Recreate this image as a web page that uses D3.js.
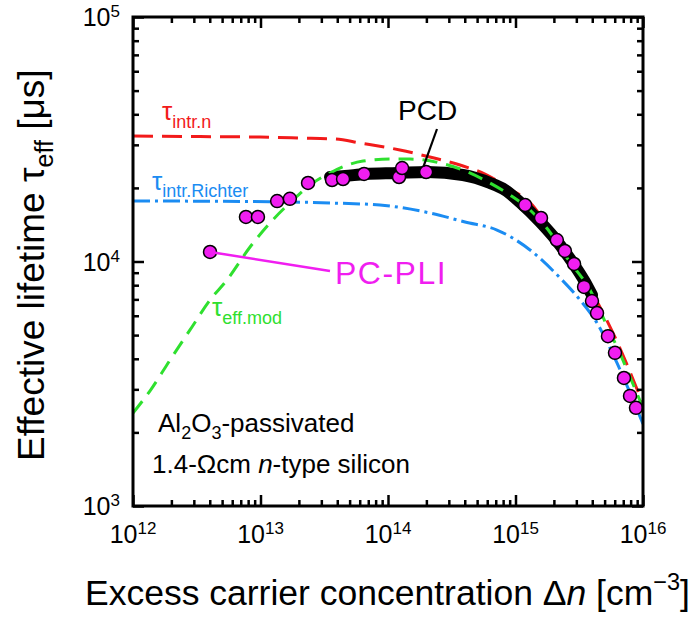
<!DOCTYPE html>
<html>
<head>
<meta charset="utf-8">
<script src="https://cdn.jsdelivr.net/npm/d3@7"></script>
<style>
  body { margin: 0; background: #fff; }
  svg { display: block; }
  text { font-family: "Liberation Sans", Arial, Helvetica, sans-serif; }
</style>
</head>
<body>
<svg id="chart" width="694" height="621"></svg>
<script>
// Axis decades and their exponent labels
const xDecades = [1e12, 1e13, 1e14, 1e15, 1e16];
const xExponents = ["12", "13", "14", "15", "16"];
const yDecades = [1e3, 1e4, 1e5];
const yExponents = ["3", "4", "5"];

// PC-PLI measurement (excess carrier density in cm^-3, lifetime in µs)
const pcpliDn = [4.02e12, 7.69e12, 9.55e12, 1.35e13, 1.70e13, 2.36e13, 3.64e13, 4.44e13, 6.49e13,
  1.22e14, 1.29e14, 1.99e14, 1.19e15, 1.585e15, 2.11e15, 2.44e15, 2.88e15, 3.45e15, 3.98e15,
  4.36e15, 5.31e15, 6.03e15, 7.09e15, 7.91e15, 8.81e15];
const pcpliTau = [10940, 15210, 15210, 17660, 18040, 20950, 21540, 21740, 22800,
  22150, 24120, 23230, 17020, 15070, 12240, 11040, 9770, 7870, 6890,
  6150, 4950, 4230, 3340, 2820, 2520];

// PCD measurement
const pcdDn = [3.51e13, 4.60e13, 6.61e13, 1.18e14, 2.02e14, 3.87e14, 6.31e14, 8.28e14,
  1.08e15, 1.56e15, 2.11e15, 2.82e15, 3.51e15, 3.98e15];
const pcdTau = [22150, 22370, 22800, 23010, 23230, 22590, 20950, 19610,
  17510, 14510, 12130, 9860, 8245, 7290];

// Modelled effective lifetime
const modDn = [1e12, 1.36e12, 1.95e12, 2.80e12, 4.02e12, 5.46e12, 8.28e12, 1.25e13, 1.80e13,
  2.58e13, 3.51e13, 4.60e13, 6.37e13, 1.04e14, 1.49e14, 2.56e14, 3.87e14, 6.31e14, 9.06e14,
  1.30e15, 1.87e15, 2.54e15, 3.84e15, 5.31e15, 6.96e15, 7.91e15, 1e16];
const modTau = [2400, 2960, 3950, 5250, 6960, 8400, 11460, 14800, 17850,
  20950, 23020, 24590, 25760, 26240, 26240, 25290, 23680, 20950, 18700,
  16240, 13140, 10330, 7640, 5350, 3950, 3370, 2520];

// Intrinsic lifetime limit (n-type parametrisation)
const intrDn = [1e12, 3.35e12, 9.9e12, 2.04e13, 3.84e13, 6.03e13, 1.24e14, 2.13e14, 3.67e14,
  5.97e14, 9.06e14, 1.30e15, 2.24e15, 3.84e15, 6.03e15, 1e16];
const intrTau = [32600, 32430, 32280, 31990, 31700, 30530, 28580, 26750, 24810,
  22580, 19800, 17410, 11450, 7700, 4900, 2612];

// Intrinsic lifetime limit after Richter
const richterDn = [1e12, 8.28e12, 3.51e13, 8.65e13, 2.13e14, 4.02e14, 7.16e14, 1.30e15,
  2.24e15, 3.21e15, 4.36e15, 6.25e15, 7.62e15, 1e16];
const richterTau = [17680, 17600, 17350, 17020, 15790, 14510, 13450, 11150,
  8560, 6960, 5600, 3845, 3040, 2165];

const zip = (a, b) => a.map((v, i) => [v, b[i]]);

const svg = d3.select("#chart");
const plotL = 133, plotR = 643, plotT = 17, plotB = 506;

const x = d3.scaleLog().domain([1e12, 1e16]).range([plotL, plotR]);
const y = d3.scaleLog().domain([1e3, 1e5]).range([plotB, plotT]);

const RED = "#f21a1a", BLUE = "#1b8cf2", GREEN = "#2fe02f", MAGENTA = "#f01ef0";

svg.append("defs").append("clipPath").attr("id", "plot")
  .append("rect").attr("x", plotL).attr("y", plotT)
  .attr("width", plotR - plotL).attr("height", plotB - plotT);

const plot = svg.append("g").attr("clip-path", "url(#plot)");

const line = d3.line()
  .x(d => x(d[0])).y(d => y(d[1]))
  .curve(d3.curveMonotoneX);

// Intrinsic limits
plot.append("path").datum(zip(intrDn, intrTau))
  .attr("d", line).attr("fill", "none")
  .attr("stroke", RED).attr("stroke-width", 3).attr("stroke-dasharray", "20,9");

plot.append("path").datum(zip(richterDn, richterTau))
  .attr("d", line).attr("fill", "none")
  .attr("stroke", BLUE).attr("stroke-width", 3).attr("stroke-dasharray", "17,5,3,5");

// PCD: dense data drawn as a thick band
plot.append("path").datum(zip(pcdDn, pcdTau))
  .attr("d", line).attr("fill", "none")
  .attr("stroke", "#000").attr("stroke-width", 12)
  .attr("stroke-linejoin", "round").attr("stroke-linecap", "round");

// Model curve
plot.append("path").datum(zip(modDn, modTau))
  .attr("d", line).attr("fill", "none")
  .attr("stroke", GREEN).attr("stroke-width", 3).attr("stroke-dasharray", "15,9");

// Leader lines
svg.append("line")
  .attr("x1", x(pcpliDn[0])).attr("y1", y(pcpliTau[0]))
  .attr("x2", 330).attr("y2", 271)
  .attr("stroke", MAGENTA).attr("stroke-width", 2.5);

svg.append("line")
  .attr("x1", 437).attr("y1", 129)
  .attr("x2", x(1.9e14)).attr("y2", y(2.45e4))
  .attr("stroke", "#000").attr("stroke-width", 2.2);

// PC-PLI points
plot.selectAll("circle.pcpli").data(zip(pcpliDn, pcpliTau)).enter()
  .append("circle").attr("class", "pcpli")
  .attr("cx", d => x(d[0])).attr("cy", d => y(d[1])).attr("r", 6.5)
  .attr("fill", MAGENTA).attr("stroke", "#000").attr("stroke-width", 1.5);

// Ticks (inward on all four sides)
const minorOf = dec => d3.range(2, 10).map(k => dec * k);
const xMinor = xDecades.slice(0, -1).flatMap(minorOf);
const yMinor = yDecades.slice(0, -1).flatMap(minorOf);
const MAJ = 11, MIN = 6;

function tickGroup(axis, transform) {
  const g = svg.append("g").attr("transform", transform).call(axis);
  g.select(".domain").remove();
  g.selectAll("line").attr("stroke", "#000").attr("stroke-width", 2.5);
  g.selectAll("text").remove();
  return g;
}
tickGroup(d3.axisBottom(x).tickValues(xDecades).tickSize(-MAJ), `translate(0,${plotB})`);
tickGroup(d3.axisBottom(x).tickValues(xMinor).tickSize(-MIN), `translate(0,${plotB})`);
tickGroup(d3.axisTop(x).tickValues(xDecades).tickSize(-MAJ), `translate(0,${plotT})`);
tickGroup(d3.axisTop(x).tickValues(xMinor).tickSize(-MIN), `translate(0,${plotT})`);
tickGroup(d3.axisLeft(y).tickValues(yDecades).tickSize(-MAJ), `translate(${plotL},0)`);
tickGroup(d3.axisLeft(y).tickValues(yMinor).tickSize(-MIN), `translate(${plotL},0)`);
tickGroup(d3.axisRight(y).tickValues(yDecades).tickSize(-MAJ), `translate(${plotR},0)`);
tickGroup(d3.axisRight(y).tickValues(yMinor).tickSize(-MIN), `translate(${plotR},0)`);

// Frame
svg.append("rect").attr("x", plotL).attr("y", plotT)
  .attr("width", plotR - plotL).attr("height", plotB - plotT)
  .attr("fill", "none").attr("stroke", "#000").attr("stroke-width", 3);

// Tick labels as powers of ten
xDecades.forEach((v, i) => {
  const t = svg.append("text").attr("x", x(v)).attr("y", 543)
    .attr("text-anchor", "middle").attr("font-size", 25).attr("fill", "#000");
  t.append("tspan").text("10");
  t.append("tspan").attr("dy", -9).attr("font-size", 17).text(xExponents[i]);
});
yDecades.forEach((v, i) => {
  const t = svg.append("text").attr("x", 120).attr("y", y(v) + 9)
    .attr("text-anchor", "end").attr("font-size", 25).attr("fill", "#000");
  t.append("tspan").text("10");
  t.append("tspan").attr("dy", -9).attr("font-size", 17).text(yExponents[i]);
});

// Axis titles
const xt = svg.append("text").attr("x", 85).attr("y", 605)
  .attr("font-size", 35.5).attr("fill", "#000");
xt.append("tspan").text("Excess carrier concentration \u0394");
xt.append("tspan").attr("font-style", "italic").text("n");
xt.append("tspan").text(" [cm");
xt.append("tspan").attr("dy", -15).attr("font-size", 23.5).text("\u22123");
xt.append("tspan").attr("dy", 15).text("]");

const yt = svg.append("text").attr("transform", "translate(44,461) rotate(-90)")
  .attr("font-size", 37).attr("fill", "#000");
yt.append("tspan").text("Effective lifetime \u03c4");
yt.append("tspan").attr("dy", 9).attr("font-size", 25).text("eff");
yt.append("tspan").attr("dy", -9).text(" [\u03bcs]");

// Curve and data labels
function subLabel(xp, yp, color, sub, size, subSize, drop) {
  const t = svg.append("text").attr("x", xp).attr("y", yp)
    .attr("font-size", size).attr("fill", color);
  t.append("tspan").text("\u03c4");
  t.append("tspan").attr("dy", drop).attr("font-size", subSize).text(sub);
}
subLabel(162, 120, RED, "intr.n", 26, 18, 8);
subLabel(152, 190, BLUE, "intr.Richter", 26, 18, 7);
subLabel(212, 316, GREEN, "eff.mod", 26, 18, 8);

svg.append("text").attr("x", 398).attr("y", 120)
  .attr("font-size", 28).attr("fill", "#000").text("PCD");
svg.append("text").attr("x", 335).attr("y", 284)
  .attr("font-size", 32).attr("letter-spacing", 1.5).attr("fill", MAGENTA).text("PC-PLI");

// Sample description
const s1 = svg.append("text").attr("x", 158).attr("y", 432)
  .attr("font-size", 26).attr("fill", "#000");
s1.append("tspan").text("Al");
s1.append("tspan").attr("dy", 7).attr("font-size", 18).text("2");
s1.append("tspan").attr("dy", -7).text("O");
s1.append("tspan").attr("dy", 7).attr("font-size", 18).text("3");
s1.append("tspan").attr("dy", -7).text("-passivated");

const s2 = svg.append("text").attr("x", 152).attr("y", 473)
  .attr("font-size", 26).attr("fill", "#000");
s2.append("tspan").text("1.4-\u03a9cm ");
s2.append("tspan").attr("font-style", "italic").text("n");
s2.append("tspan").text("-type silicon");
</script>
</body>
</html>
